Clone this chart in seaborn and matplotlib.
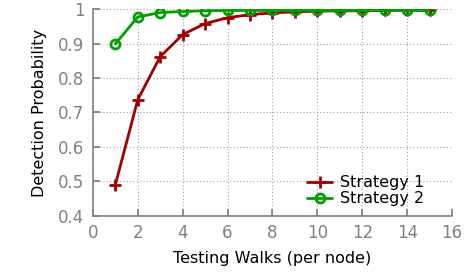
import pandas as pd
import seaborn as sns
import matplotlib.pyplot as plt

walks = [1, 2, 3, 4, 5, 6, 7, 8, 9, 10, 11, 12, 13, 14, 15]
strategy1 = [0.490, 0.737, 0.862, 0.926, 0.958, 0.975, 0.984, 0.989, 0.992,
             0.994, 0.995, 0.995, 0.996, 0.996, 0.996]
strategy2 = [0.899, 0.977, 0.990, 0.993, 0.995, 0.996, 0.996, 0.996, 0.996,
             0.996, 0.996, 0.996, 0.996, 0.996, 0.996]
labels = ["Strategy 1", "Strategy 2"]

df1 = pd.DataFrame({"walks": walks, "prob": strategy1})
df2 = pd.DataFrame({"walks": walks, "prob": strategy2})

sns.set_theme(style="white")
plt.rcParams["font.family"] = ["DejaVu Sans"]
plt.rcParams["text.color"] = "black"
plt.rcParams["axes.labelcolor"] = "black"

fig = plt.figure(figsize=(4.69, 2.75), dpi=100)
ax = fig.add_axes([0.198, 0.215, 0.766, 0.752])

red, green = "#a00000", "#00a000"
sns.lineplot(data=df1, x="walks", y="prob", color=red, linewidth=2,
             marker="+", markersize=8, markeredgewidth=2,
             markeredgecolor=red, label=labels[0], ax=ax)
sns.lineplot(data=df2, x="walks", y="prob", color=green, linewidth=2,
             marker="o", markersize=6.5, markerfacecolor="none",
             markeredgecolor=green, markeredgewidth=2, label=labels[1],
             ax=ax)

ax.set_xlim(0, 16)
ax.set_ylim(0.4, 1.0)
ax.set_xticks(range(0, 17, 2))
ax.set_yticks([0.4, 0.5, 0.6, 0.7, 0.8, 0.9, 1.0])
ax.set_yticklabels(["0.4", "0.5", "0.6", "0.7", "0.8", "0.9", "1"])
ax.grid(True, linestyle=(0, (1, 2)), color="#a0a0a0", linewidth=0.8)
for side in ["top", "right"]:
    ax.spines[side].set_visible(False)
for side in ["left", "bottom"]:
    ax.spines[side].set_color("#808080")
    ax.spines[side].set_linewidth(1.2)
ax.tick_params(direction="in", length=5, color="#808080", labelcolor="#808080",
               labelsize=12, pad=6, left=True, bottom=True)
ax.set_xlabel("Testing Walks (per node)", fontsize=11.5, labelpad=6)
ax.set_ylabel("Detection Probability", fontsize=11.5, labelpad=8)

ax.legend(loc="lower right", frameon=False, fontsize=11.5, handlelength=1.6,
          handletextpad=0.5, labelspacing=0.05, borderaxespad=0.2,
          bbox_to_anchor=(0.95, 0.0))

fig.savefig("out.png", dpi=100)
